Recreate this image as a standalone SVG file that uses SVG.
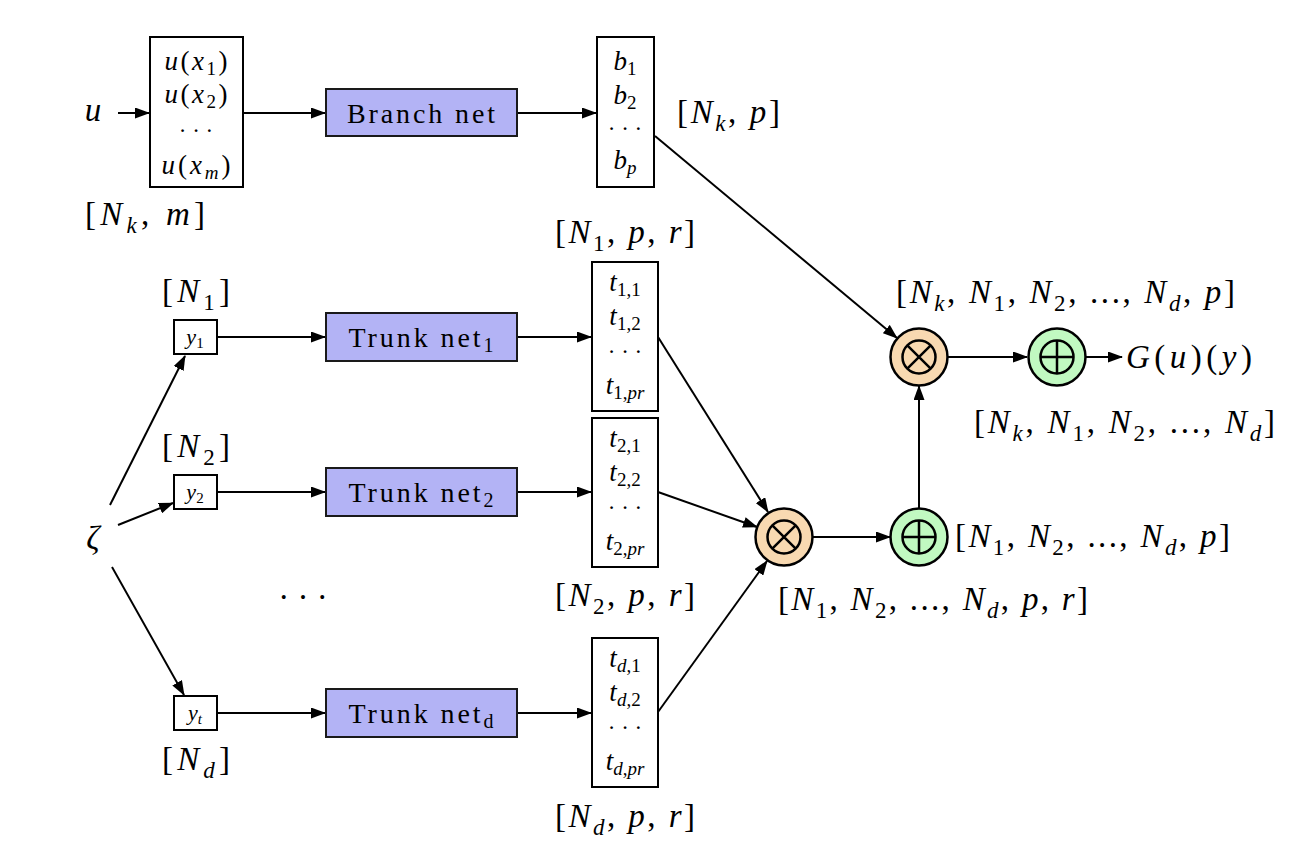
<svg xmlns="http://www.w3.org/2000/svg" width="1312" height="862" viewBox="0 0 1312 862">
<style>
.t{font-family:"Liberation Serif","DejaVu Serif",serif;fill:#000}
.i{font-style:italic}
.lbl{font-size:33px}
.sb{font-size:23px}
.bx{font-size:27px}
.bs{font-size:19px}
.dt{font-size:23px}
.nt{font-size:28px}
.box{fill:#fff;stroke:#000;stroke-width:2}
.net{fill:#b3b3f5;stroke:#1a1a1a;stroke-width:2}
.mul{fill:#f8d9b1;stroke:#000;stroke-width:2.5}
.add{fill:#c1f9c1;stroke:#000;stroke-width:2.5}
.sym{fill:none;stroke:#000;stroke-width:2.5}
#connectors line{stroke:#000;stroke-width:2;fill:none;marker-end:url(#ah)}
</style>
<defs>
<marker id="ah" markerUnits="userSpaceOnUse" markerWidth="15" markerHeight="11" refX="14" refY="5.5" orient="auto">
<path d="M0,0 L15,5.5 L0,11 z" fill="#000"/>
</marker>
</defs>
<rect width="1312" height="862" fill="#fff"/>

<g id="connectors">
<line x1="118" y1="113" x2="149" y2="113"/>
<line x1="243" y1="113" x2="325" y2="113"/>
<line x1="517" y1="113" x2="596" y2="113"/>
<line x1="655" y1="136" x2="897" y2="338"/>
<line x1="948" y1="357" x2="1027" y2="357"/>
<line x1="1086" y1="357" x2="1122" y2="357"/>
<line x1="919" y1="509" x2="919" y2="386"/>
<line x1="813" y1="537" x2="890" y2="537"/>
<line x1="110" y1="505" x2="185" y2="356"/>
<line x1="118" y1="525" x2="173" y2="503"/>
<line x1="112" y1="567" x2="184" y2="695"/>
<line x1="217" y1="337" x2="325" y2="337"/>
<line x1="217" y1="492" x2="325" y2="492"/>
<line x1="217" y1="713" x2="325" y2="713"/>
<line x1="517" y1="337" x2="591" y2="337"/>
<line x1="517" y1="492" x2="591" y2="492"/>
<line x1="517" y1="713" x2="591" y2="713"/>
<line x1="658" y1="337" x2="768" y2="512"/>
<line x1="658" y1="492" x2="757" y2="527"/>
<line x1="658" y1="712" x2="767" y2="561"/>
</g>

<g id="u-label"><text class="t i lbl" x="93" y="121" text-anchor="middle">u</text></g>

<g id="input">
<rect class="box" x="150" y="37" width="93" height="150"/>
<text class="t bx" x="196" y="70" text-anchor="middle" textLength="63" lengthAdjust="spacing"><tspan class="i">u</tspan>(<tspan class="i">x</tspan><tspan dy="5" class="bs">1</tspan><tspan dy="-5">)</tspan></text>
<text class="t bx" x="196" y="103" text-anchor="middle" textLength="63" lengthAdjust="spacing"><tspan class="i">u</tspan>(<tspan class="i">x</tspan><tspan dy="5" class="bs">2</tspan><tspan dy="-5">)</tspan></text>
<text class="t dt" x="196" y="138" text-anchor="middle">· · ·</text>
<text class="t bx" x="196" y="174" text-anchor="middle" textLength="69" lengthAdjust="spacing"><tspan class="i">u</tspan>(<tspan class="i">x</tspan><tspan dy="5" class="bs i">m</tspan><tspan dy="-5">)</tspan></text>
</g>
<g id="input-label"><text class="t lbl" x="85" y="225" textLength="120" lengthAdjust="spacing">[<tspan class="i">N</tspan><tspan dy="8" class="sb i">k</tspan><tspan dy="-8">, </tspan><tspan class="i">m</tspan>]</text></g>

<g id="branch">
<rect class="net" x="326" y="89" width="191" height="47"/>
<text class="t nt" x="421" y="123" text-anchor="middle" textLength="148" lengthAdjust="spacing">Branch net</text>
</g>

<g id="branch-out">
<rect class="box" x="597" y="37" width="57" height="150"/>
<text class="t bx" x="625" y="70" text-anchor="middle"><tspan class="i">b</tspan><tspan dy="5" class="bs">1</tspan></text>
<text class="t bx" x="625" y="104" text-anchor="middle"><tspan class="i">b</tspan><tspan dy="5" class="bs">2</tspan></text>
<text class="t dt" x="625" y="136" text-anchor="middle">· · ·</text>
<text class="t bx" x="625" y="169" text-anchor="middle"><tspan class="i">b</tspan><tspan dy="5" class="bs i">p</tspan></text>
</g>
<g id="branch-out-label"><text class="t lbl" x="677" y="123" textLength="103" lengthAdjust="spacing">[<tspan class="i">N</tspan><tspan dy="8" class="sb i">k</tspan><tspan dy="-8">, </tspan><tspan class="i">p</tspan>]</text></g>

<g id="zeta"><text class="t i lbl" x="93" y="549" text-anchor="middle">ζ</text></g>

<g id="y1">
<rect class="box" x="174" y="320" width="43" height="34"/>
<text class="t" font-size="22" x="195" y="344" text-anchor="middle"><tspan class="i">y</tspan><tspan dy="4" font-size="15">1</tspan></text>
</g>
<g id="y2">
<rect class="box" x="174" y="475" width="43" height="34"/>
<text class="t" font-size="22" x="195" y="499" text-anchor="middle"><tspan class="i">y</tspan><tspan dy="4" font-size="15">2</tspan></text>
</g>
<g id="yt">
<rect class="box" x="174" y="696" width="43" height="34"/>
<text class="t" font-size="22" x="195" y="720" text-anchor="middle"><tspan class="i">y</tspan><tspan dy="4" font-size="15" class="i">t</tspan></text>
</g>
<g id="y-labels">
<text class="t lbl" x="162" y="302" textLength="68" lengthAdjust="spacing">[<tspan class="i">N</tspan><tspan dy="8" class="sb">1</tspan><tspan dy="-8">]</tspan></text>
<text class="t lbl" x="162" y="457" textLength="68" lengthAdjust="spacing">[<tspan class="i">N</tspan><tspan dy="8" class="sb">2</tspan><tspan dy="-8">]</tspan></text>
<text class="t lbl" x="162" y="770" textLength="68" lengthAdjust="spacing">[<tspan class="i">N</tspan><tspan dy="8" class="sb i">d</tspan><tspan dy="-8">]</tspan></text>
</g>

<g id="trunk1">
<rect class="net" x="326" y="313" width="191" height="48"/>
<text class="t nt" x="421" y="347" text-anchor="middle" textLength="145" lengthAdjust="spacing">Trunk net<tspan dy="5" font-size="20">1</tspan></text>
</g>
<g id="trunk2">
<rect class="net" x="326" y="468" width="191" height="48"/>
<text class="t nt" x="421" y="502" text-anchor="middle" textLength="145" lengthAdjust="spacing">Trunk net<tspan dy="5" font-size="20">2</tspan></text>
</g>
<g id="trunkd">
<rect class="net" x="326" y="689" width="191" height="48"/>
<text class="t nt" x="421" y="723" text-anchor="middle" textLength="145" lengthAdjust="spacing">Trunk net<tspan dy="5" font-size="20">d</tspan></text>
</g>
<g id="dots"><text class="t lbl" x="303" y="608" text-anchor="middle">· · ·</text></g>

<g id="t1">
<rect class="box" x="592" y="262" width="66" height="149"/>
<text class="t bx" x="625" y="291" text-anchor="middle"><tspan class="i">t</tspan><tspan dy="5" class="bs">1,1</tspan></text>
<text class="t bx" x="625" y="325" text-anchor="middle"><tspan class="i">t</tspan><tspan dy="5" class="bs">1,2</tspan></text>
<text class="t dt" x="625" y="359" text-anchor="middle">· · ·</text>
<text class="t bx" x="625" y="394" text-anchor="middle"><tspan class="i">t</tspan><tspan dy="5" class="bs">1,<tspan class="i">pr</tspan></tspan></text>
</g>
<g id="t2">
<rect class="box" x="592" y="418" width="66" height="149"/>
<text class="t bx" x="625" y="447" text-anchor="middle"><tspan class="i">t</tspan><tspan dy="5" class="bs">2,1</tspan></text>
<text class="t bx" x="625" y="481" text-anchor="middle"><tspan class="i">t</tspan><tspan dy="5" class="bs">2,2</tspan></text>
<text class="t dt" x="625" y="515" text-anchor="middle">· · ·</text>
<text class="t bx" x="625" y="550" text-anchor="middle"><tspan class="i">t</tspan><tspan dy="5" class="bs">2,<tspan class="i">pr</tspan></tspan></text>
</g>
<g id="td">
<rect class="box" x="592" y="638" width="66" height="149"/>
<text class="t bx" x="625" y="667" text-anchor="middle"><tspan class="i">t</tspan><tspan dy="5" class="bs"><tspan class="i">d</tspan>,1</tspan></text>
<text class="t bx" x="625" y="701" text-anchor="middle"><tspan class="i">t</tspan><tspan dy="5" class="bs"><tspan class="i">d</tspan>,2</tspan></text>
<text class="t dt" x="625" y="735" text-anchor="middle">· · ·</text>
<text class="t bx" x="625" y="770" text-anchor="middle"><tspan class="i">t</tspan><tspan dy="5" class="bs"><tspan class="i">d</tspan>,<tspan class="i">pr</tspan></tspan></text>
</g>
<g id="t-labels">
<text class="t lbl" x="555" y="243" textLength="140" lengthAdjust="spacing">[<tspan class="i">N</tspan><tspan dy="8" class="sb">1</tspan><tspan dy="-8">, </tspan><tspan class="i">p</tspan>, <tspan class="i">r</tspan>]</text>
<text class="t lbl" x="555" y="606" textLength="140" lengthAdjust="spacing">[<tspan class="i">N</tspan><tspan dy="8" class="sb">2</tspan><tspan dy="-8">, </tspan><tspan class="i">p</tspan>, <tspan class="i">r</tspan>]</text>
<text class="t lbl" x="555" y="827" textLength="140" lengthAdjust="spacing">[<tspan class="i">N</tspan><tspan dy="8" class="sb i">d</tspan><tspan dy="-8">, </tspan><tspan class="i">p</tspan>, <tspan class="i">r</tspan>]</text>
</g>

<g id="mul-trunk">
<circle class="mul" cx="784" cy="537" r="28.5"/>
<circle class="sym" cx="784" cy="537" r="16.5"/>
<path class="sym" d="M772.3,525.3 L795.7,548.7 M795.7,525.3 L772.3,548.7"/>
</g>
<g id="mul-trunk-label"><text class="t lbl" x="778" y="610" textLength="310" lengthAdjust="spacing">[<tspan class="i">N</tspan><tspan dy="8" class="sb">1</tspan><tspan dy="-8">, </tspan><tspan class="i">N</tspan><tspan dy="8" class="sb">2</tspan><tspan dy="-8">, ..., </tspan><tspan class="i">N</tspan><tspan dy="8" class="sb i">d</tspan><tspan dy="-8">, </tspan><tspan class="i">p</tspan>, <tspan class="i">r</tspan>]</text></g>

<g id="add-trunk">
<circle class="add" cx="919" cy="537" r="28.5"/>
<circle class="sym" cx="919" cy="537" r="16.5"/>
<path class="sym" d="M902.5,537 L935.5,537 M919,520.5 L919,553.5"/>
</g>
<g id="add-trunk-label"><text class="t lbl" x="955" y="547" textLength="275" lengthAdjust="spacing">[<tspan class="i">N</tspan><tspan dy="8" class="sb">1</tspan><tspan dy="-8">, </tspan><tspan class="i">N</tspan><tspan dy="8" class="sb">2</tspan><tspan dy="-8">, ..., </tspan><tspan class="i">N</tspan><tspan dy="8" class="sb i">d</tspan><tspan dy="-8">, </tspan><tspan class="i">p</tspan>]</text></g>

<g id="mul-top">
<circle class="mul" cx="919" cy="357" r="28.5"/>
<circle class="sym" cx="919" cy="357" r="16.5"/>
<path class="sym" d="M907.3,345.3 L930.7,368.7 M930.7,345.3 L907.3,368.7"/>
</g>
<g id="mul-top-label"><text class="t lbl" x="896" y="303" textLength="339" lengthAdjust="spacing">[<tspan class="i">N</tspan><tspan dy="8" class="sb i">k</tspan><tspan dy="-8">, </tspan><tspan class="i">N</tspan><tspan dy="8" class="sb">1</tspan><tspan dy="-8">, </tspan><tspan class="i">N</tspan><tspan dy="8" class="sb">2</tspan><tspan dy="-8">, ..., </tspan><tspan class="i">N</tspan><tspan dy="8" class="sb i">d</tspan><tspan dy="-8">, </tspan><tspan class="i">p</tspan>]</text></g>

<g id="add-top">
<circle class="add" cx="1057" cy="357" r="28.5"/>
<circle class="sym" cx="1057" cy="357" r="16.5"/>
<path class="sym" d="M1040.5,357 L1073.5,357 M1057,340.5 L1057,373.5"/>
</g>
<g id="add-top-label"><text class="t lbl" x="974" y="433" textLength="301" lengthAdjust="spacing">[<tspan class="i">N</tspan><tspan dy="8" class="sb i">k</tspan><tspan dy="-8">, </tspan><tspan class="i">N</tspan><tspan dy="8" class="sb">1</tspan><tspan dy="-8">, </tspan><tspan class="i">N</tspan><tspan dy="8" class="sb">2</tspan><tspan dy="-8">, ..., </tspan><tspan class="i">N</tspan><tspan dy="8" class="sb i">d</tspan><tspan dy="-8">]</tspan></text></g>

<g id="output"><text class="t lbl" x="1126" y="368" textLength="126" lengthAdjust="spacing"><tspan class="i">G</tspan>(<tspan class="i">u</tspan>)(<tspan class="i">y</tspan>)</text></g>
</svg>
